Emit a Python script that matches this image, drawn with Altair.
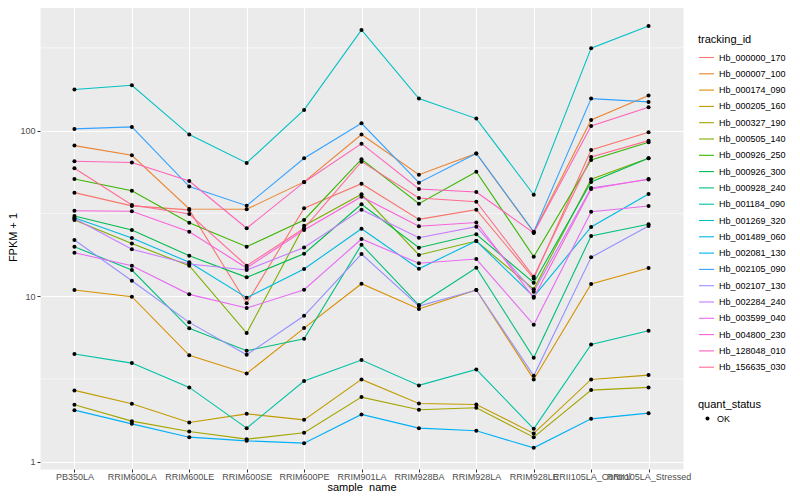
import altair as alt
import pandas as pd

samples = ["PB350LA", "RRIM600LA", "RRIM600LE", "RRIM600SE", "RRIM600PE", "RRIM901LA",
           "RRIM928BA", "RRIM928LA", "RRIM928LE", "RRII105LA_Control", "RRII105LA_Stressed"]

ids = ["Hb_000000_170", "Hb_000007_100", "Hb_000174_090", "Hb_000205_160", "Hb_000327_190",
       "Hb_000505_140", "Hb_000926_250", "Hb_000926_300", "Hb_000928_240", "Hb_001184_090",
       "Hb_001269_320", "Hb_001489_060", "Hb_002081_130", "Hb_002105_090", "Hb_002107_130",
       "Hb_002284_240", "Hb_003599_040", "Hb_004800_230", "Hb_128048_010", "Hb_156635_030"]

colors = ["#F8766D", "#EA8331", "#D89000", "#C09B00", "#A3A500", "#7CAE00", "#39B600",
          "#00BB4E", "#00BF7D", "#00C1A3", "#00BFC4", "#00BAE0", "#00B0F6", "#35A2FF",
          "#9590FF", "#C77CFF", "#E76BF3", "#FA62DB", "#FF62BC", "#FF6C91"]

# FPKM + 1 per sample (order of `samples`)
hb_000000_170 = [42.2, 35.1, 33.2, 9.05, 34.0, 47.8, 29.1, 33.3, 12.8, 76.4, 97.8]
hb_000007_100 = [81.2, 71.0, 33.6, 33.5, 49.0, 94.8, 54.2, 72.8, 24.3, 116.0, 162.8]
hb_000174_090 = [10.89, 9.92, 4.39, 3.41, 6.41, 11.89, 8.36, 10.89, 3.14, 11.84, 14.79]
hb_000205_160 = [2.695, 2.236, 1.726, 1.945, 1.789, 3.14, 2.248, 2.217, 1.481, 3.14, 3.334]
hb_000327_190 = [2.205, 1.757, 1.522, 1.368, 1.494, 2.455, 2.057, 2.115, 1.406, 2.706, 2.81]
hb_000505_140 = [28.85, 20.8, 15.27, 5.98, 26.65, 41.26, 17.73, 21.54, 11.0, 50.84, 68.1]
hb_000926_250 = [51.05, 43.37, 27.79, 19.89, 28.85, 67.15, 36.2, 56.51, 17.31, 66.5, 85.1]
hb_000926_300 = [30.5, 25.09, 17.55, 12.99, 18.05, 35.89, 19.61, 23.64, 12.05, 49.0, 68.1]
hb_000928_240 = [19.89, 14.38, 6.39, 4.677, 5.527, 20.46, 8.84, 14.85, 4.243, 23.09, 27.18]
hb_001184_090 = [4.467, 3.94, 2.81, 1.594, 3.067, 4.109, 2.889, 3.609, 1.579, 5.111, 6.177]
hb_001269_320 = [177.0, 188.0, 94.6, 63.8, 133.4, 406.0, 156.1, 118.2, 41.0, 315.0, 428.0]
hb_001489_060 = [29.79, 22.45, 16.01, 9.78, 14.58, 25.55, 14.64, 21.54, 9.92, 26.17, 41.43]
hb_002081_130 = [2.048, 1.692, 1.406, 1.336, 1.294, 1.929, 1.594, 1.536, 1.212, 1.814, 1.964]
hb_002105_090 = [102.4, 105.3, 45.9, 35.2, 68.1, 110.8, 48.5, 72.8, 24.5, 156.1, 149.1]
hb_002107_130 = [21.84, 12.39, 6.944, 4.423, 7.61, 17.97, 8.71, 10.89, 3.302, 17.16, 26.54]
hb_002284_240 = [29.45, 19.19, 15.63, 14.38, 19.67, 33.3, 22.54, 26.28, 10.63, 45.04, 50.7]
hb_003599_040 = [18.3, 15.27, 10.25, 8.475, 10.93, 22.14, 15.79, 16.76, 6.715, 32.37, 35.05]
hb_004800_230 = [32.83, 32.56, 24.5, 14.79, 25.09, 39.9, 26.42, 27.86, 9.78, 44.4, 51.05]
hb_128048_010 = [65.3, 64.2, 49.6, 25.7, 48.8, 83.4, 44.4, 42.6, 24.1, 106.8, 138.5]
hb_156635_030 = [59.26, 35.55, 31.36, 15.27, 25.7, 64.94, 39.18, 37.22, 13.1, 69.34, 87.0]

series = [hb_000000_170, hb_000007_100, hb_000174_090, hb_000205_160, hb_000327_190,
          hb_000505_140, hb_000926_250, hb_000926_300, hb_000928_240, hb_001184_090,
          hb_001269_320, hb_001489_060, hb_002081_130, hb_002105_090, hb_002107_130,
          hb_002284_240, hb_003599_040, hb_004800_230, hb_128048_010, hb_156635_030]

quant_status = "OK"
y_breaks = [1, 10, 100]
y_minor_breaks = [3.162, 31.62, 316.2]
y_domain = [0.903, 574]

rows = []
for tid, vals in zip(ids, series):
    for s, v in zip(samples, vals):
        rows.append({"tracking_id": tid, "sample_name": s, "fpkm1": v,
                     "quant_status": quant_status})
df = pd.DataFrame(rows)
minor_df = pd.DataFrame({"fpkm1": y_minor_breaks})

x_enc = alt.X(
    "sample_name:N", sort=samples,
    scale=alt.Scale(type="point", padding=0.6),
    axis=alt.Axis(title="sample_name", labelAngle=0, labelFontSize=9, labelColor="#4D4D4D",
                  labelPadding=0, tickColor="#333333", tickSize=3, domain=False, grid=True,
                  gridColor="white", gridWidth=1.1, titleFontSize=11, titleFontWeight="normal",
                  titleColor="black", titlePadding=0, labelOverlap=False),
)
y_enc = alt.Y(
    "fpkm1:Q",
    scale=alt.Scale(type="log", domain=y_domain, nice=False),
    axis=alt.Axis(title="FPKM + 1", values=y_breaks, format="d", labelFontSize=9,
                  labelColor="#4D4D4D", labelPadding=2, tickColor="#333333", tickSize=3,
                  domain=False, grid=True, gridColor="white", gridWidth=1.1,
                  titleFontSize=11, titleFontWeight="normal", titleColor="black",
                  titlePadding=1),
)

minor = alt.Chart(minor_df).mark_rule(color="white", strokeWidth=0.55).encode(y=y_enc)

lines = alt.Chart(df).mark_line(strokeWidth=1.1).encode(
    x=x_enc, y=y_enc,
    color=alt.Color(
        "tracking_id:N",
        scale=alt.Scale(domain=ids, range=colors),
        legend=alt.Legend(title="tracking_id", orient="none", legendX=658, legendY=29,
                          direction="vertical", titleFontSize=11, titleFontWeight="normal",
                          titleColor="black", titlePadding=4, labelFontSize=9,
                          labelColor="black", symbolType="stroke", symbolSize=225,
                          symbolStrokeWidth=1.1, labelOffset=4, rowPadding=2.3),
    ),
)

points = alt.Chart(df).mark_point(filled=True, size=16, opacity=1, color="black").encode(
    x=x_enc, y=y_enc,
    shape=alt.Shape(
        "quant_status:N",
        scale=alt.Scale(domain=[quant_status], range=["circle"]),
        legend=alt.Legend(title="quant_status", orient="none", legendX=658, legendY=394,
                          titleFontSize=11, titleFontWeight="normal", titleColor="black",
                          titlePadding=4, labelFontSize=9, labelColor="black",
                          symbolSize=16, symbolOffset=5, labelOffset=5,
                          symbolFillColor="black", symbolStrokeColor="black"),
    ),
)

chart = alt.layer(minor, lines, points).properties(
    width=643, height=464,
    padding={"left": 32, "top": -3, "right": 105, "bottom": 23},
    autosize=alt.AutoSizeParams(type="none"),
).configure(font="Liberation Sans").configure_view(fill="#EBEBEB", stroke="transparent")

chart.save("out.html", embed_options={"renderer": "svg", "actions": False})
